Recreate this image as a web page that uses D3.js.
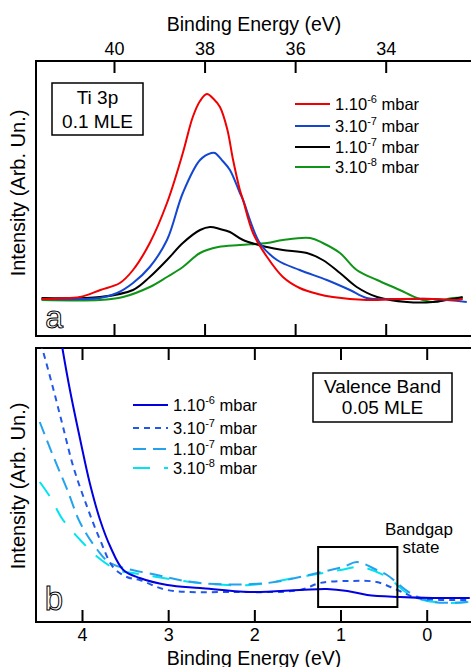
<!DOCTYPE html>
<html>
<head>
<meta charset="utf-8">
<script src="https://cdn.jsdelivr.net/npm/d3@7"></script>
<style>
  body { margin: 0; background: #fff; }
  svg { display: block; font-family: "Liberation Sans", Arial, sans-serif; }
</style>
</head>
<body>
<svg width="471" height="667"></svg>
<script>
// ---- panel a: Ti 3p core level (binding energy eV, intensity arb.)
var tiLabels = ["1.10", "3.10", "1.10", "3.10"];
var tiExps = ["-6", "-7", "-7", "-8"];
var tiColors = ["#f00000", "#1447d0", "#000000", "#0f9418"];
var tiTicks = [40, 38, 36, 34];

var ti1e6 = [[41.6,0],[41.2,0.5],[40.75,2],[40.3,9],[39.87,16],[39.58,29],[39.21,56],[38.83,96],[38.48,146],
  [38.26,182],[38.1,198],[37.95,205],[37.8,200],[37.66,192],[37.5,170],[37.37,139],[37.22,109],[37.15,99],
  [36.93,66],[36.62,42],[36.27,22],[35.9,11],[35.5,5],[35.17,2],[34.42,-1],[33.69,0],[32.96,0],[32.43,-1],[32.3,0]];
var ti3e7 = [[41.6,0],[40.75,0],[40.31,1],[39.93,6],[39.58,16],[39.21,32],[38.83,59],[38.48,106],[38.1,139],
  [37.85,146],[37.77,146],[37.6,138],[37.44,129],[37.22,106],[37.15,99],[36.78,56],[36.4,39],[35.9,29],
  [35.3,19],[34.79,9],[34.42,1],[33.69,0],[32.96,0],[32.21,-3]];
var ti1e7 = [[41.6,1],[40.31,2],[39.58,9],[39.21,22],[38.83,39],[38.48,56],[38.1,69],[37.88,72],[37.66,70],
  [37.44,67],[37.15,59],[36.62,52],[36.27,49],[35.74,46],[35.39,39],[35.01,26],[34.64,12],[34.19,2],
  [33.53,-3],[32.96,-3],[32.3,2]];
var ti3e8 = [[41.6,-1],[40.31,-1],[39.8,2],[39.21,12],[38.83,22],[38.48,32],[38.1,46],[37.7,52],[37.22,54],
  [36.62,56],[36.27,59],[35.67,61],[35.39,56],[35.01,46],[34.64,29],[34.19,19],[33.69,9],[33.31,1],
  [32.96,-3],[32.52,1],[32.3,1]];
var tiSeries = [ti1e6, ti3e7, ti1e7, ti3e8];

// ---- panel b: valence band
var vbColors = ["#0000e0", "#2258ea", "#25a2ee", "#00e4f0"];
var vbDash = ["none", "6,5", "13,7", "17,14"];
var vbTicks = [4, 3, 2, 1, 0];

var vb1e6 = [[4.3,290],[4.22,248],[4.14,210],[4.02,160],[3.91,117],[3.79,80],[3.67,53],[3.52,30],[3.33,22],
  [3.01,15],[2.63,12],[2.05,8],[1.47,10],[1.16,11],[0.92,9],[0.69,5],[0.31,3],[-0.07,2],[-0.5,2]];
var vb3e7 = [[4.52,268],[4.45,248],[4.33,210],[4.22,173],[4.1,133],[3.94,93],[3.79,60],[3.64,33],[3.48,23],
  [3.33,20],[3.01,10],[2.25,8],[1.47,10],[1.24,17],[0.89,19],[0.58,18],[0.34,10],[0.11,2],[-0.47,0]];
var vb1e7 = [[4.49,178],[4.33,143],[4.17,110],[4.02,77],[3.82,50],[3.67,37],[3.13,25],[2.63,17],[1.85,17],
  [1.27,27],[0.97,33],[0.81,38],[0.58,30],[0.46,25],[0.19,7],[-0.07,-2],[-0.47,-2]];
var vb3e8 = [[4.49,118],[4.37,103],[4.22,80],[4.02,60],[3.82,43],[3.59,30],[3.41,27],[3.13,23],[2.63,17],
  [2.05,15],[1.47,23],[1.0,30],[0.77,33],[0.46,23],[0.23,7],[0.04,0],[-0.24,-3],[-0.5,-2]];
var vbSeries = [vb1e6, vb3e7, vb1e7, vb3e8];

var gapBox = [1.26, 0.34]; // energy range of bandgap-state box

var svg = d3.select("svg");
var left = 36, right = 473;

// panel a scales
var xa = d3.scaleLinear().domain([40, 34]).range([114, 385.7]);
var ya = d3.scaleLinear().domain([-37, 238]).range([336, 61]);
// panel b scales
var xb = d3.scaleLinear().domain([4, 0]).range([82, 426.7]);
var yb = d3.scaleLinear().domain([-22, 252]).range([622, 348]);

function frame(top, bottom) {
  svg.append("rect")
    .attr("x", left).attr("y", top)
    .attr("width", right - left).attr("height", bottom - top)
    .attr("fill", "none").attr("stroke", "#000").attr("stroke-width", 2);
}

function inwardAxis(scale, ticks, y, dir, labels) {
  var ax = (dir === "top" ? d3.axisTop(scale) : d3.axisBottom(scale))
    .tickValues(ticks).tickFormat(d3.format("d"))
    .tickSizeOuter(0).tickSizeInner(-12).tickPadding(6);
  var g = svg.append("g").attr("transform", "translate(0," + y + ")").call(ax);
  g.select(".domain").remove();
  g.selectAll(".tick line").attr("stroke", "#000").attr("stroke-width", 2);
  g.selectAll(".tick text").attr("font-size", 18).attr("fill", "#000")
    .attr("font-family", "Liberation Sans, Arial, sans-serif")
    .style("display", labels ? null : "none");
  return g;
}

// ---------- panel a
frame(61, 336);
inwardAxis(xa, tiTicks, 61, "top", true);
inwardAxis(xa, tiTicks, 336, "bottom", false);

svg.append("text").attr("x", 254).attr("y", 31).attr("text-anchor", "middle")
  .attr("font-size", 19.5).text("Binding Energy (eV)");

var lineA = d3.line().x(d => xa(d[0])).y(d => ya(d[1])).curve(d3.curveCatmullRom.alpha(0.5));
svg.append("g").selectAll("path").data(tiSeries.slice().reverse()).join("path")
  .attr("d", lineA)
  .attr("fill", "none")
  .attr("stroke", (d, i) => tiColors[3 - i])
  .attr("stroke-width", 2);

svg.append("rect").attr("x", 52).attr("y", 83).attr("width", 91).attr("height", 52)
  .attr("fill", "#fff").attr("stroke", "#000").attr("stroke-width", 1.5);
svg.append("text").attr("x", 97.5).attr("y", 104).attr("text-anchor", "middle").attr("font-size", 19).text("Ti 3p");
svg.append("text").attr("x", 97.5).attr("y", 128).attr("text-anchor", "middle").attr("font-size", 19).text("0.1 MLE");

function legendRow(g, x, y, color, dash, lab, ex) {
  g.append("line").attr("x1", x).attr("x2", x + 35).attr("y1", y).attr("y2", y)
    .attr("stroke", color).attr("stroke-width", 2).attr("stroke-dasharray", dash);
  var t = g.append("text").attr("x", x + 40).attr("y", y + 6).attr("font-size", 16.5);
  t.append("tspan").text(lab);
  t.append("tspan").attr("font-size", 11).attr("dy", -7).text(ex);
  t.append("tspan").attr("dy", 7).text(" mbar");
}

var legA = svg.append("g");
tiLabels.forEach((lab, i) => legendRow(legA, 295, [104, 126, 147, 167][i], tiColors[i], "none", lab, tiExps[i]));

svg.append("text").attr("x", 63).attr("y", 328).attr("text-anchor", "end")
  .attr("font-size", 32).attr("fill", "#fff").attr("stroke", "#000").attr("stroke-width", 1).text("a");

svg.append("text").attr("transform", "translate(25,193) rotate(-90)").attr("text-anchor", "middle")
  .attr("font-size", 20).text("Intensity (Arb. Un.)");

// ---------- panel b
frame(348, 622);
inwardAxis(xb, vbTicks, 348, "top", false);
inwardAxis(xb, vbTicks, 622, "bottom", true);

svg.append("defs").append("clipPath").attr("id", "clipb")
  .append("rect").attr("x", left).attr("y", 348).attr("width", right - left).attr("height", 274);

var lineB = d3.line().x(d => xb(d[0])).y(d => yb(d[1])).curve(d3.curveCatmullRom.alpha(0.5));
svg.append("g").attr("clip-path", "url(#clipb)")
  .selectAll("path").data(vbSeries.slice().reverse()).join("path")
  .attr("d", lineB)
  .attr("fill", "none")
  .attr("stroke", (d, i) => vbColors[3 - i])
  .attr("stroke-dasharray", (d, i) => vbDash[3 - i])
  .attr("stroke-width", 2);

svg.append("rect")
  .attr("x", xb(gapBox[0])).attr("y", 547)
  .attr("width", xb(gapBox[1]) - xb(gapBox[0])).attr("height", 60)
  .attr("fill", "none").attr("stroke", "#000").attr("stroke-width", 2);
svg.append("text").attr("x", 419).attr("y", 535).attr("text-anchor", "middle").attr("font-size", 17).text("Bandgap");
svg.append("text").attr("x", 421).attr("y", 553).attr("text-anchor", "middle").attr("font-size", 17).text("state");

svg.append("rect").attr("x", 313).attr("y", 373).attr("width", 139).attr("height", 49)
  .attr("fill", "#fff").attr("stroke", "#000").attr("stroke-width", 1.5);
svg.append("text").attr("x", 382.5).attr("y", 393).attr("text-anchor", "middle").attr("font-size", 19).text("Valence Band");
svg.append("text").attr("x", 382.5).attr("y", 414).attr("text-anchor", "middle").attr("font-size", 19).text("0.05 MLE");

var legB = svg.append("g");
tiLabels.forEach((lab, i) => legendRow(legB, 133, [405, 428, 449, 468][i], vbColors[i], vbDash[i], lab, tiExps[i]));

svg.append("text").attr("x", 63).attr("y", 610).attr("text-anchor", "end")
  .attr("font-size", 33).attr("fill", "#fff").attr("stroke", "#000").attr("stroke-width", 1).text("b");

svg.append("text").attr("transform", "translate(25,486) rotate(-90)").attr("text-anchor", "middle")
  .attr("font-size", 20).text("Intensity (Arb. Un.)");

svg.append("text").attr("x", 254).attr("y", 665).attr("text-anchor", "middle")
  .attr("font-size", 19.5).text("Binding Energy (eV)");
</script>
</body>
</html>
